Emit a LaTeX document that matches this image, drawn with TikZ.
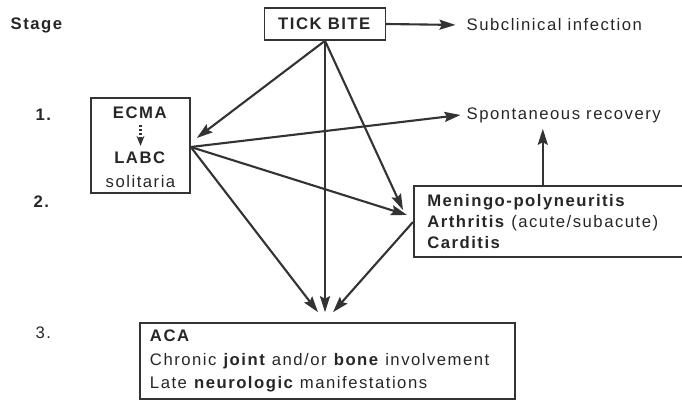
\documentclass[tikz,border=0pt]{standalone}
\usepackage{fontspec}
\setmainfont{Liberation Sans}[LetterSpace=9]
\usetikzlibrary{arrows.meta}

\begin{document}
\begin{tikzpicture}[
    every node/.style={font=\fontsize{9.5}{12}\selectfont, text=black!85},
    box/.style={
        draw=black!80,
        line width=0.9pt,
        inner xsep=0.27cm,
        align=left
    },
    arrow/.style={-{Stealth[length=3.2mm,width=2mm,inset=0.5mm]}, line width=1.2pt, draw=black!80},
    dotarrow/.style={-{Stealth[length=2mm,width=1.6mm]}, densely dotted, line width=1.2pt, draw=black!80}
]
\useasboundingbox (0,0) rectangle (13.64,-8.06);

\node[anchor=west] (stage) at (0.09,-0.5) {\textbf{Stage}};
\node[anchor=west] (st1) at (0.59,-2.3) {\textbf{1.}};
\node[anchor=west] (st2) at (0.55,-4.04) {\textbf{2.}};
\node[anchor=west] (st3) at (0.59,-6.66) {3.};

\node[box, minimum width=2.32cm, minimum height=0.64cm, align=center] (tick) at (6.5,-0.48) {\textbf{TICK BITE}};
\node[anchor=west] (subclin) at (9.21,-0.5) {Subclinical infection};
\node[anchor=west] (recov) at (9.21,-2.3) {Spontaneous recovery};

\node[box, minimum width=1.98cm, minimum height=1.9cm] (ecma) at (2.81,-2.91) {};
\node (ecmatxt) at (2.81,-2.26) {\textbf{ECMA}};
\node (labc) at (2.81,-3.16) {\textbf{LABC}};
\node (solit) at (2.81,-3.64) {solitaria};

\node[box, anchor=west, text width=4.9cm, minimum height=1.42cm,
      font=\fontsize{9.5}{12.2}\selectfont] (meningo) at (8.26,-4.43)
    {\textbf{Meningo-polyneuritis}\\\textbf{Arthritis} (acute/subacute)\\\textbf{Carditis}};

\node[box, text width=7.1cm, inner xsep=0.2cm, minimum height=1.52cm,
      font=\fontsize{9.5}{13.3}\selectfont] (aca) at (6.55,-7.22)
    {\textbf{ACA}\\Chronic \textbf{joint} and/or \textbf{bone} involvement\\Late \textbf{neurologic} manifestations};

% arrow ends
\coordinate (labcout) at ([yshift=-0.03cm]ecma.east);
\coordinate (labcin) at ([xshift=0.12cm,yshift=0.15cm]ecma.east);
\coordinate (menhi) at ([xshift=-0.2cm,yshift=0.23cm]meningo.west);
\coordinate (menlo) at ([xshift=-0.12cm,yshift=0.13cm]meningo.west);
\coordinate (acaleft) at ([xshift=-0.19cm,yshift=0.2cm]aca.north);
\coordinate (acaright) at ([xshift=0.11cm,yshift=0.2cm]aca.north);

\draw[dotarrow] (ecmatxt.south) -- (labc.north);

\draw[arrow, shorten >=0.1cm] (tick.east) -- (subclin.west);
\draw[arrow] (tick.south) -- (labcin);
\draw[arrow] (tick.south) -- (tick.south |- acaleft);
\draw[arrow] (tick.south) -- (menhi);

\draw[arrow] (labcout) -- (recov.west);
\draw[arrow] (labcout) -- (menlo);
\draw[arrow] (labcout) -- (acaleft);

\draw[arrow] ([yshift=-0.01cm]meningo.west) -- (acaright);
\draw[arrow] ([xshift=-0.14cm]meningo.north) -- ([xshift=-0.14cm]meningo.north |- recov.south);

\end{tikzpicture}
\end{document}
